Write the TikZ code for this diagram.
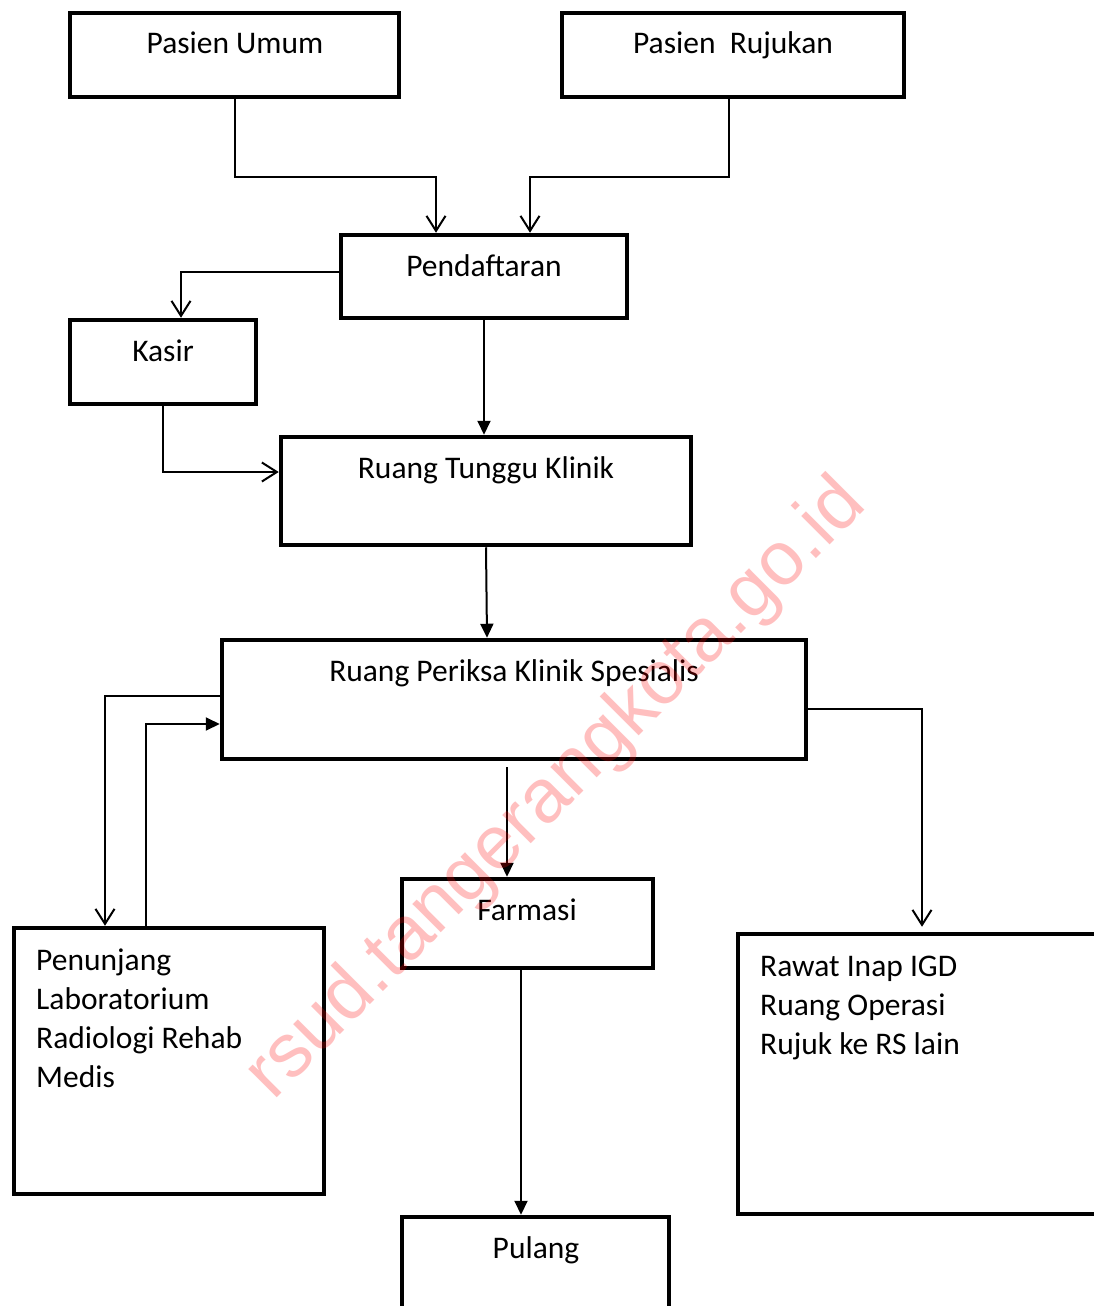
\documentclass[tikz,border=0pt]{standalone}
\usepackage{fontspec}
\setmainfont{Carlito}
\newfontfamily\wmfont{Liberation Sans}
\usetikzlibrary{arrows.meta}
\begin{document}
\begin{tikzpicture}[x=1pt,y=-1pt,
  box/.style={draw, line width=4.5pt, inner sep=0pt},
  txt/.style={font=\fontsize{31.5}{39}\selectfont, inner sep=0pt, anchor=base},
  ltxt/.style={font=\fontsize{31.5}{39}\selectfont, inner sep=0pt, anchor=base west, align=left},
  conn/.style={line width=2pt},
  openarr/.style={conn, -{Straight Barb[length=15pt,width=19pt]}},
  filledarr/.style={conn, -{Triangle[length=14pt,width=13pt]}}]
\clip (0,0) rectangle (1094,1306);
\fill[white] (0,0) rectangle (1094,1306);
% boxes
\node[box, minimum width=329pt, minimum height=84pt] (pu) at (234.5,55) {};
\node[box, minimum width=342pt, minimum height=84pt] (pr) at (733,55) {};
\node[box, minimum width=286pt, minimum height=83pt] (pd) at (484,276.5) {};
\node[box, minimum width=186pt, minimum height=84pt] (ks) at (163,362) {};
\node[box, minimum width=410pt, minimum height=108pt] (rt) at (486,491) {};
\node[box, minimum width=584pt, minimum height=119pt] (pk) at (514,699.5) {};
\node[box, minimum width=251pt, minimum height=89pt] (fm) at (527.5,923.5) {};
\node[box, minimum width=310pt, minimum height=266pt] (pn) at (169,1061) {};
\node[box, minimum width=362pt, minimum height=280pt] (rw) at (919,1074) {};
\node[box, minimum width=267pt, minimum height=103pt] (pl) at (535.5,1268.5) {};
% texts
\node[txt] (tpu) at (235,54) {Pasien Umum};
\node[txt] (tpr) at (733,54) {Pasien\ \ Rujukan};
\node[txt] (tpd) at (484,276) {Pendaftaran};
\node[txt] (tks) at (163,361) {Kasir};
\node[txt] (trt) at (486,478) {Ruang Tunggu Klinik};
\node[txt] (tpk) at (514,681) {Ruang Periksa Klinik Spesialis};
\node[txt] (tfm) at (527,920) {Farmasi};
\node[txt] (tpl) at (536,1258) {Pulang};
\node[ltxt] (tpn) at (36,1087) {Penunjang\\Laboratorium\\Radiologi Rehab\\Medis};
\node[ltxt] (trw) at (760,1054) {Rawat Inap IGD\\Ruang Operasi\\Rujuk ke RS lain};
% helper coordinates
\coordinate (pdL) at ([xshift=-48pt]pd.north);
\coordinate (pdR) at ([xshift=46pt]pd.north);
\coordinate (prS) at ([xshift=-4pt]pr.south);
\coordinate (ksN) at ([xshift=18pt]ks.north);
\coordinate (pdW) at ([yshift=4.5pt]pd.west);
\coordinate (rtW) at ([yshift=19pt]rt.west);
\coordinate (pkN) at ([xshift=-27pt]pk.north);
\coordinate (pkW1) at ([yshift=3.5pt]pk.west);
\coordinate (pkW2) at ([yshift=-24.5pt]pk.west);
\coordinate (pnN1) at ([xshift=-64pt]pn.north);
\coordinate (pnN2) at ([xshift=-23pt]pn.north);
\coordinate (pkE) at ([yshift=-9.5pt]pk.east);
\coordinate (rwN) at ([xshift=3pt]rw.north);
\coordinate (fmN) at ([xshift=-20.5pt]fm.north);
\coordinate (fmS) at ([xshift=-6.5pt]fm.south);
% connectors
\draw[openarr] (pu.south) -- (pu.south |- 0,177) -| (pdL);
\draw[openarr] (prS) -- (prS |- 0,177) -| (pdR);
\draw[openarr] (pdW) -| (ksN);
\draw[filledarr] (pd.south) -- (pd.south |- rt.north);
\draw[openarr] (ks.south) |- (rtW);
\draw[filledarr] (rt.south) -- (pkN);
\draw[openarr] (pkW1) -| (pnN1);
\draw[filledarr] (pnN2) |- (pkW2);
\draw[openarr, shorten >=5pt] (pkE) -| (rwN);
\draw[filledarr, shorten <=6pt] (fmN |- pk.south) -- (fmN);
\draw[filledarr] (fmS) -- (fmS |- pl.north);
% watermark
\node[rotate=45, text=red, text opacity=0.25, inner sep=0pt,
  font=\wmfont\fontsize{76}{76}\selectfont] (wm) at (557,790) {rsud.tangerangkota.go.id};
\end{tikzpicture}
\end{document}
